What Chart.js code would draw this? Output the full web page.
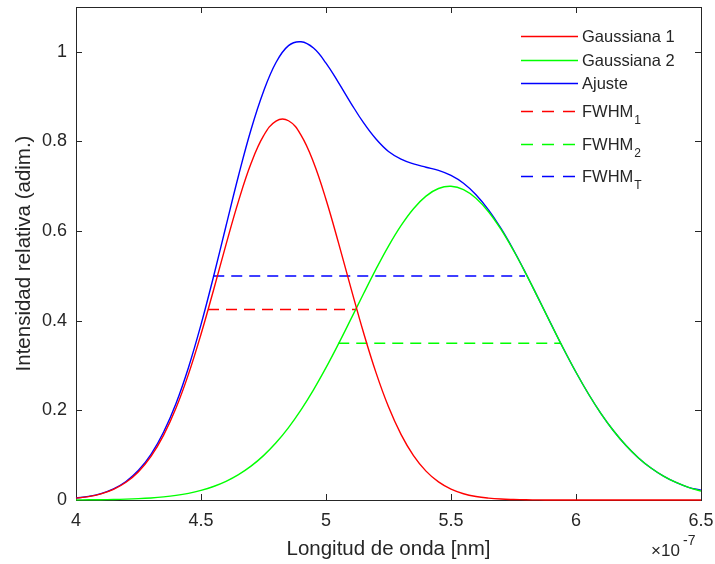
<!DOCTYPE html>
<html>
<head>
<meta charset="utf-8">
<script src="https://cdn.jsdelivr.net/npm/chart.js@4"></script>
<style>
  body { margin: 0; background: #fff; }
  #wrap { width: 715px; height: 564px; }
</style>
</head>
<body>
<div id="wrap"><canvas id="chart" width="715" height="564"></canvas></div>
<script>
// wavelength (x 1e-7 m)
const wavelength = [4.00, 4.05, 4.10, 4.15, 4.20, 4.25, 4.30, 4.35, 4.40, 4.45,
  4.50, 4.55, 4.60, 4.65, 4.70, 4.75, 4.80, 4.85, 4.90, 4.95,
  5.00, 5.05, 5.10, 5.15, 5.20, 5.25, 5.30, 5.35, 5.40, 5.45,
  5.50, 5.55, 5.60, 5.65, 5.70, 5.75, 5.80, 5.85, 5.90, 5.95,
  6.00, 6.05, 6.10, 6.15, 6.20, 6.25, 6.30, 6.35, 6.40, 6.45, 6.50];

const gauss1 = [0.0041, 0.0076, 0.0137, 0.0237, 0.0395, 0.0632, 0.0973, 0.1442, 0.2052, 0.2809,
  0.3698, 0.4681, 0.5698, 0.6669, 0.7506, 0.8124, 0.8455, 0.8462, 0.8143, 0.7536,
  0.6706, 0.5738, 0.4722, 0.3736, 0.2842, 0.2079, 0.1464, 0.0990, 0.0644, 0.0403,
  0.0242, 0.0140, 0.0078, 0.0042, 0.0021, 0.0011, 0.0005, 0.0002, 0.0001, 0.0000,
  0, 0, 0, 0, 0, 0, 0, 0, 0, 0, 0];

const gauss2 = [0.0003, 0.0004, 0.0007, 0.0012, 0.0019, 0.0030, 0.0046, 0.0069, 0.0102, 0.0149,
  0.0214, 0.0301, 0.0416, 0.0566, 0.0755, 0.0990, 0.1276, 0.1616, 0.2011, 0.2458,
  0.2952, 0.3484, 0.4040, 0.4602, 0.5151, 0.5666, 0.6122, 0.6500, 0.6781, 0.6950,
  0.6999, 0.6926, 0.6733, 0.6432, 0.6037, 0.5567, 0.5044, 0.4490, 0.3928, 0.3375,
  0.2850, 0.2365, 0.1928, 0.1544, 0.1215, 0.0939, 0.0713, 0.0533, 0.0391, 0.0282, 0.0199];

const ajuste = [0.0044, 0.0080, 0.0144, 0.0249, 0.0414, 0.0662, 0.1019, 0.1511, 0.2154, 0.2958,
  0.3912, 0.4982, 0.6114, 0.7235, 0.8261, 0.9114, 0.9761, 1.0138, 1.0224, 1.0084,
  0.9748, 0.9312, 0.8852, 0.8418, 0.8053, 0.7775, 0.7606, 0.7500, 0.7425, 0.7353,
  0.7241, 0.7066, 0.6811, 0.6474, 0.6058, 0.5578, 0.5049, 0.4492, 0.3929, 0.3375,
  0.2850, 0.2365, 0.1928, 0.1544, 0.1215, 0.0939, 0.0713, 0.0533, 0.0391, 0.0282, 0.0220];

// FWHM segments: [x start, x end], level
const fwhm1X = [4.528, 5.123], fwhm1Y = 0.425;
const fwhm2X = [5.049, 5.936], fwhm2Y = 0.35;
const fwhmTX = [4.549, 5.796], fwhmTY = 0.5;

const xTicks = [4, 4.5, 5, 5.5, 6, 6.5];
const yTicks = [0, 0.2, 0.4, 0.6, 0.8, 1];

const legendNames = [["Gaussiana 1", ""], ["Gaussiana 2", ""], ["Ajuste", ""],
  ["FWHM", "1"], ["FWHM", "2"], ["FWHM", "T"]];

const RED = "#ff0000", GREEN = "#00ff00", BLUE = "#0000ff";
const AXIS = "#262626";
const FONT = "'Liberation Sans', Arial, Helvetica, sans-serif";

const pts = (ys) => wavelength.map((w, i) => ({ x: w, y: ys[i] }));
const seg = (xs, y) => xs.map((x) => ({ x: x, y: y }));

const curve = (label, data, color) => ({
  label, data, borderColor: color, borderWidth: 1.4, pointRadius: 0,
  tension: 0.4, clip: 3, fill: false
});
const dashed = (label, data, color) => ({
  label, data, borderColor: color, borderWidth: 1.5, pointRadius: 0,
  borderDash: [11, 7], clip: 3, fill: false
});

const datasets = [
  curve("Gaussiana 1", pts(gauss1), RED),
  curve("Gaussiana 2", pts(gauss2), GREEN),
  curve("Ajuste", pts(ajuste), BLUE),
  dashed("FWHM1", seg(fwhm1X, fwhm1Y), RED),
  dashed("FWHM2", seg(fwhm2X, fwhm2Y), GREEN),
  dashed("FWHMT", seg(fwhmTX, fwhmTY), BLUE)
];

// box + inward ticks, like matlab
const boxPlugin = {
  id: "box",
  beforeDatasetsDraw(chart) {
    const { ctx, chartArea: a, scales } = chart;
    ctx.save();
    ctx.strokeStyle = AXIS;
    ctx.lineWidth = 1;
    ctx.strokeRect(Math.round(a.left) + 0.5, Math.round(a.top) + 0.5,
      Math.round(a.right - a.left), Math.round(a.bottom - a.top));
    ctx.beginPath();
    xTicks.forEach((v) => {
      const px = Math.round(scales.x.getPixelForValue(v)) + 0.5;
      ctx.moveTo(px, a.bottom); ctx.lineTo(px, a.bottom - 6);
      ctx.moveTo(px, a.top); ctx.lineTo(px, a.top + 6);
    });
    yTicks.forEach((v) => {
      const py = Math.round(scales.y.getPixelForValue(v)) + 0.5;
      ctx.moveTo(a.left, py); ctx.lineTo(a.left + 6, py);
      ctx.moveTo(a.right, py); ctx.lineTo(a.right - 6, py);
    });
    ctx.stroke();
    ctx.restore();
  },
  afterDraw(chart) {
    const { ctx } = chart;
    ctx.save();
    // exponent label
    ctx.fillStyle = AXIS;
    ctx.textBaseline = "alphabetic";
    ctx.font = "17px " + FONT;
    ctx.fillText("\u00d710", 651, 556);
    ctx.font = "14px " + FONT;
    ctx.fillText("-7", 683, 545);

    // legend
    const rowsY = [36, 60, 83, 111, 144, 176];
    const colors = [RED, GREEN, BLUE, RED, GREEN, BLUE];
    rowsY.forEach((y, i) => {
      ctx.beginPath();
      ctx.strokeStyle = colors[i];
      ctx.lineWidth = 1.5;
      ctx.setLineDash(i > 2 ? [12, 9] : []);
      ctx.moveTo(521, y + 0.5); ctx.lineTo(578, y + 0.5);
      ctx.stroke();
      ctx.setLineDash([]);
      ctx.fillStyle = AXIS;
      ctx.font = "16.5px " + FONT;
      ctx.textBaseline = "middle";
      const [main, sub] = legendNames[i];
      ctx.fillText(main, 582, y + 1);
      if (sub) {
        const w = ctx.measureText(main).width;
        ctx.font = "12px " + FONT;
        ctx.fillText(sub, 582 + w + 1, y + 10);
      }
    });
    ctx.restore();
  }
};

new Chart(document.getElementById("chart"), {
  type: "line",
  data: { datasets },
  options: {
    responsive: false,
    animation: false,
    layout: { padding: { top: 7, right: 14, left: 0, bottom: 0 } },
    plugins: { legend: { display: false }, tooltip: { enabled: false } },
    scales: {
      x: {
        type: "linear", min: 4, max: 6.5,
        grid: { display: false, drawTicks: false },
        border: { display: false },
        afterBuildTicks: (s) => { s.ticks = xTicks.map((v) => ({ value: v })); },
        afterFit: (s) => { s.height = 64; s.paddingLeft = 0; s.paddingRight = 0; },
        ticks: {
          color: AXIS, padding: 10, font: { family: FONT, size: 18 },
          maxRotation: 0, callback: (v) => String(v)
        },
        title: {
          display: true, text: "Longitud de onda [nm]", color: AXIS,
          font: { family: FONT, size: 20.5 }, padding: { top: 0, bottom: 2 }
        }
      },
      y: {
        type: "linear", min: 0, max: 1.1,
        grid: { display: false, drawTicks: false },
        border: { display: false },
        afterBuildTicks: (s) => { s.ticks = yTicks.map((v) => ({ value: v })); },
        afterFit: (s) => { s.width = 76; s.paddingTop = 0; s.paddingBottom = 0; },
        ticks: {
          color: AXIS, padding: 9, font: { family: FONT, size: 18 },
          callback: (v) => String(v)
        },
        title: {
          display: true, text: "Intensidad relativa (adim.)", color: AXIS,
          font: { family: FONT, size: 20.5 }, padding: { top: 12, bottom: 0 }
        }
      }
    }
  },
  plugins: [boxPlugin]
});
</script>
</body>
</html>
